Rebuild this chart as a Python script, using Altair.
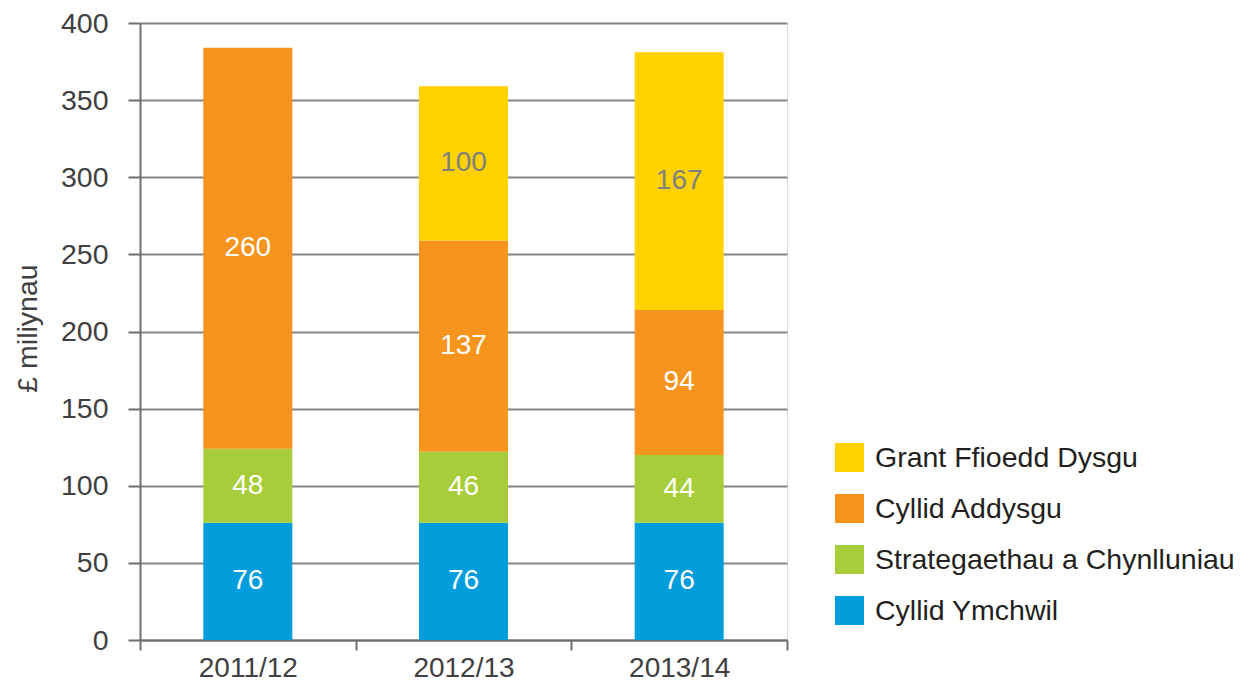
import altair as alt
import pandas as pd

years = ["2011/12", "2012/13", "2013/14"]
series = ["Grant Ffioedd Dysgu", "Cyllid Addysgu", "Strategaethau a Chynlluniau", "Cyllid Ymchwil"]
colors = ["#FFD200", "#F7941D", "#A7CE3A", "#009DDC"]

ymchwil = [76, 76, 76]
strateg = [48, 46, 44]
addysgu = [260, 137, 94]
grant = [None, 100, 167]

rows = []
for i, y in enumerate(years):
    for name, vals, order in [("Cyllid Ymchwil", ymchwil, 0),
                              ("Strategaethau a Chynlluniau", strateg, 1),
                              ("Cyllid Addysgu", addysgu, 2),
                              ("Grant Ffioedd Dysgu", grant, 3)]:
        if vals[i] is not None:
            rows.append({"year": y, "series": name, "value": vals[i], "order": order})
df = pd.DataFrame(rows)

FONT = "Liberation Sans"

base = alt.Chart(df).transform_stack(
    stack="value", groupby=["year"], as_=["v0", "v1"],
    sort=[alt.SortField("order", order="ascending")]
).transform_calculate(mid="(datum.v0 + datum.v1) / 2")

x_enc = alt.X("year:N", sort=years, title=None,
              scale=alt.Scale(paddingInner=0, paddingOuter=0),
              axis=alt.Axis(tickBand="extent", labelAngle=0, labelFontSize=28,
                            labelColor="#404040", labelFont=FONT, labelPadding=4,
                            tickSize=10, tickColor="#6e6e6e", tickWidth=2,
                            domainColor="#6e6e6e", domainWidth=2, grid=False))

bars = base.mark_bar(width=89).encode(
    x=x_enc,
    y=alt.Y("v0:Q", title="£ miliynau",
            scale=alt.Scale(domain=[0, 400], nice=False),
            axis=alt.Axis(values=list(range(0, 401, 50)), labelFontSize=28.5,
                          labelColor="#404040", labelFont=FONT, labelPadding=20,
                          tickSize=12, tickColor="#6e6e6e", tickWidth=2,
                          domainColor="#6e6e6e", domainWidth=2,
                          grid=True, gridColor="#858585", gridWidth=2,
                          titleFontSize=28.5, titleFont=FONT, titleColor="#404040",
                          titleFontWeight="normal", titleX=-113, titleY=305,
                          titleAngle=-90, titleBaseline="middle", titleAlign="center")),
    y2="v1:Q",
    color=alt.Color("series:N", title=None,
                    scale=alt.Scale(domain=series, range=colors),
                    legend=alt.Legend(orient="none", legendX=695, legendY=420,
                                      symbolType="square", symbolSize=841,
                                      symbolStrokeWidth=0, labelFontSize=28.5,
                                      labelFont=FONT, labelColor="#231F20",
                                      labelOffset=11, rowPadding=22, padding=0,
                                      labelLimit=500)),
)

labels = base.mark_text(fontSize=28, font=FONT, baseline="middle", align="center").encode(
    x=alt.X("year:N", sort=years),
    y=alt.Y("mid:Q"),
    text=alt.Text("value:Q"),
    color=alt.condition(alt.datum.series == "Grant Ffioedd Dysgu",
                        alt.value("#808080"), alt.value("#FFFFFF")),
)

chart = alt.layer(bars, labels).properties(
    width=647, height=617,
    autosize=alt.AutoSizeParams(type="none"),
    padding={"left": 132, "top": 15, "right": 450, "bottom": 42},
).configure_view(stroke=None).configure(font=FONT)

chart.save("out.html", embed_options={"renderer": "svg", "actions": False})
